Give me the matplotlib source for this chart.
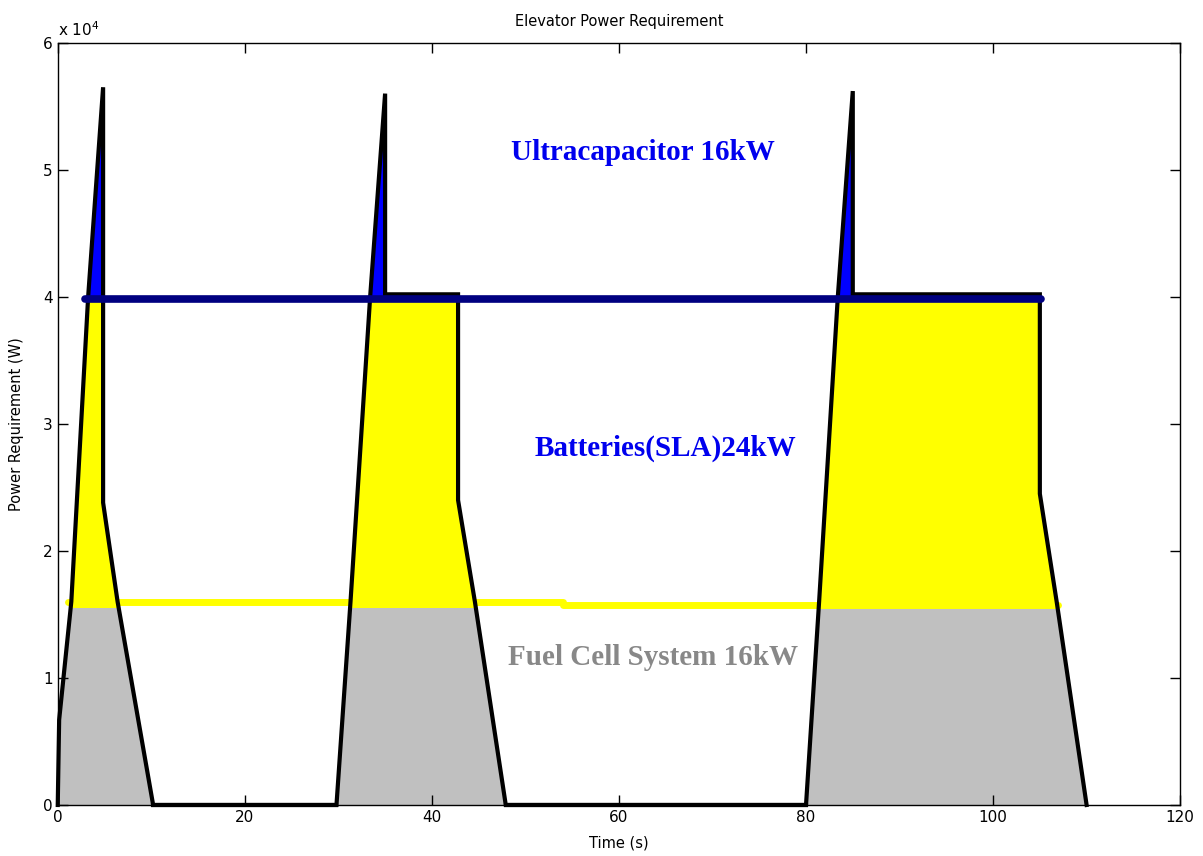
import matplotlib
matplotlib.use("Agg")
import matplotlib.pyplot as plt
from matplotlib.patches import Rectangle
from matplotlib.ticker import FuncFormatter

# perfil de carga del ascensor (lectura de la figura)
time_s = [0, 0.15, 1.45, 3.25, 4.85, 4.85, 6.4, 10.2,
          29.8, 31.3, 33.4, 35.0, 35.0, 42.8, 42.8, 44.6, 47.9,
          80.0, 81.4, 83.4, 85.0, 85.0, 105.0, 105.0, 106.8, 110.0]
power_w = [0, 6700, 16000, 40000, 56500, 23800, 16000, 0,
           0, 16000, 40000, 56000, 40200, 40200, 24000, 16000, 0,
           0, 16000, 40000, 56200, 40200, 40200, 24500, 16000, 0]

# niveles de cada fuente
fc_level = 15600
bat_level = 39800
band_colors = ["#C0C0C0", "#FFFF00", "#0000FF"]

# lineas horizontales de referencia
yellow_x = [1.1, 54.0, 54.0, 106.9]
yellow_y = [16000, 16000, 15750, 15750]
navy_x = [2.9, 105.1]
navy_y = [39800, 39800]

labels = ["Ultracapacitor 16kW", "Batteries(SLA)24kW", "Fuel Cell System 16kW"]
label_x = [62.6, 65.0, 63.6]
label_y = [51400, 28100, 11600]
label_colors = ["#0000EE", "#0000EE", "#888888"]

fig = plt.figure(figsize=(12.03, 8.56), dpi=100)
ax = fig.add_axes([0.048, 0.0596, 0.933, 0.8904])

bands = [(0, fc_level), (fc_level, bat_level), (bat_level, 70000)]
for (lo, hi), col in zip(bands, band_colors):
    poly = ax.fill_between(time_s, 0, power_w, color=col, linewidth=0, zorder=1)
    clip = Rectangle((-10, lo), 200, hi - lo, transform=ax.transData)
    poly.set_clip_path(clip)

ax.plot(yellow_x, yellow_y, color="#FFFF00", lw=5, solid_capstyle="round", zorder=2)
ax.plot([10.2, 29.8], [0, 0], color="black", lw=3, zorder=3, clip_on=False)
ax.plot([47.9, 80.0], [0, 0], color="black", lw=3, zorder=3, clip_on=False)
ax.plot(time_s, power_w, color="black", lw=3, zorder=3, clip_on=False,
        solid_joinstyle="miter")
ax.plot(navy_x, navy_y, color="#000080", lw=5.5, solid_capstyle="round", zorder=4)

for txt, x, y, c in zip(labels, label_x, label_y, label_colors):
    ax.text(x, y, txt, color=c, fontsize=21, fontweight="bold",
            family="Liberation Serif", ha="center", va="center", zorder=5)

ax.set_xlim(0, 120)
ax.set_ylim(0, 60000)
ax.set_xticks(range(0, 121, 20))
ax.set_yticks(range(0, 60001, 10000))
ax.yaxis.set_major_formatter(FuncFormatter(lambda v, p: f"{v / 1e4:g}"))
ax.tick_params(direction="in", length=7, top=True, right=True, labelsize=11, width=1)
for sp in ax.spines.values():
    sp.set_linewidth(1)
ax.text(0.0, 1.005, r"x 10$^4$", transform=ax.transAxes, fontsize=11, ha="left", va="bottom")

ax.set_title("Elevator Power Requirement", fontsize=10.5, pad=12)
ax.set_xlabel("Time (s)", fontsize=10.5, labelpad=8)
ax.set_ylabel("Power Requirement (W)", fontsize=10.5, labelpad=14)

plt.savefig("out.png", dpi=100)
